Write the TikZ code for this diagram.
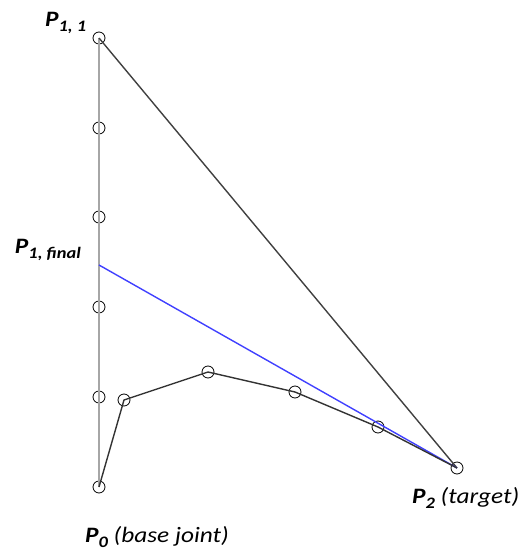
\documentclass[tikz,border=0pt]{standalone}
\usepackage{fontspec}
\usepackage{graphicx}
\setmainfont{Carlito}
\usetikzlibrary{positioning}

\newcommand{\pname}[1]{\textbf{P}\raisebox{-5pt}{\fontsize{16}{18}\selectfont\bfseries #1}}
\newcommand{\wide}[1]{\scalebox{1.15}[1]{#1}}

\begin{document}
\begin{tikzpicture}[x=1pt, y=-1pt,
      joint/.style={draw, circle, inner sep=0pt, minimum size=12pt, line width=0.8pt},
      lbl/.style={font=\fontsize{22}{26}\selectfont\itshape, inner sep=0pt, anchor=base west}]
    \useasboundingbox (0,0) rectangle (527,553);
    % starting column of joints
    \foreach \i/\y in {1/38,2/128,3/217,4/307,5/397,6/487}
      \node[joint] (g\i) at (99,\y) {};
    \coordinate (final) at (99,265);
    % current chain
    \foreach \i/\x/\y in {1/124/400,2/208/372,3/295/392,4/378/427}
      \node[joint] (j\i) at (\x,\y) {};
    \node[joint] (target) at (457,468) {};
    \draw[black!35, line width=1.8pt] (g1.center) -- (g6.center);
    \draw[black!75, line width=1.4pt] (g1.center) -- (target.center);
    \draw[blue!75, line width=1.4pt] (final) -- (target.center);
    \draw[black!80, line width=1.4pt] (g6.center) -- (j1.center) -- (j2.center)
      -- (j3.center) -- (j4.center) -- (target.center);
    % labels
    \node[lbl] (l11) at (45,27) {\wide{\pname{1, 1}}};
    \node[lbl, anchor=base east] (lfin) at (81,253) {\wide{\pname{1, final}}};
    \node[lbl] (l0) at (85,542) {\wide{\pname{0}\ (base joint)}};
    \node[lbl] (l2) at (412,503) {\wide{\pname{2}\ (target)}};
  \end{tikzpicture}
\end{document}
